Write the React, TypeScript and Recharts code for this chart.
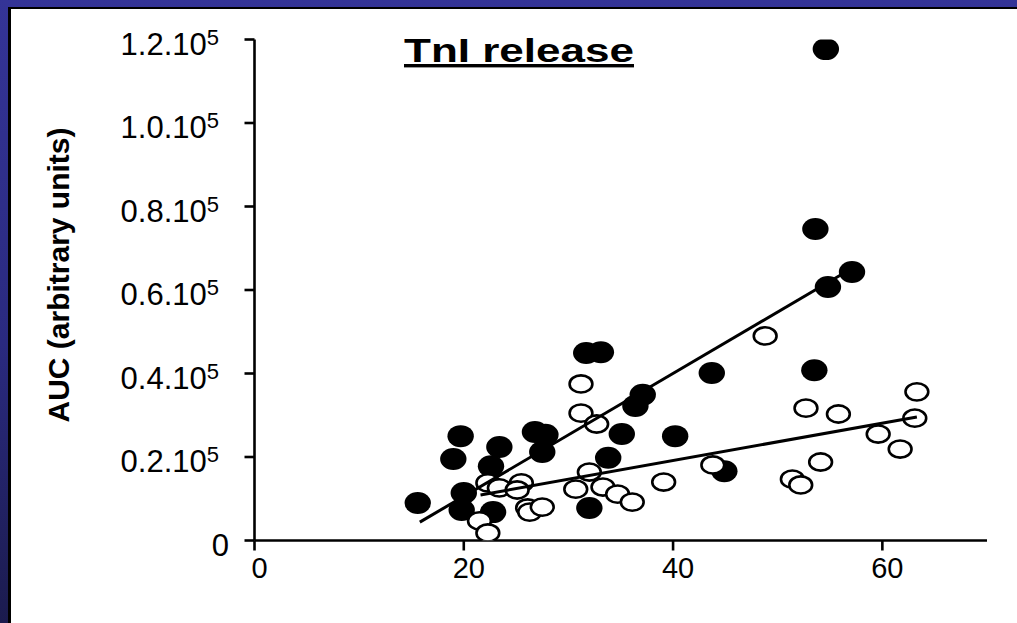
import React from 'react';
import { ScatterChart, Scatter, XAxis, YAxis, Customized } from 'recharts';

// values (AUC in arbitrary units)
const filledX = [15.6, 19.7, 19.0, 20.0, 19.8, 22.8, 22.6, 23.4, 26.8, 27.8, 27.5, 31.7, 33.1, 37.1, 36.4, 35.1, 33.8, 32.0, 40.2, 43.7, 44.9, 53.5, 57.1, 54.8, 53.6, 54.6];
const filledAUC = [9000, 25000, 19500, 11400, 7300, 6800, 17800, 22400, 26000, 25300, 21200, 44900, 45100, 34900, 32200, 25500, 19800, 7800, 25000, 40100, 16600, 40800, 64300, 60700, 74600, 117700];

const openX = [21.5, 22.3, 22.3, 23.4, 25.5, 25.1, 26.1, 26.3, 27.5, 30.7, 32.0, 31.2, 31.2, 32.7, 33.3, 34.7, 36.1, 39.1, 43.8, 48.8, 51.4, 52.2, 52.7, 54.1, 55.8, 59.6, 61.7, 63.1, 63.3];
const openAUC = [4700, 1800, 13800, 12600, 13800, 12100, 7800, 6800, 8000, 12300, 16400, 37500, 30500, 27900, 12800, 11100, 9200, 14000, 18100, 49000, 14700, 13300, 31700, 18800, 30300, 25500, 21900, 29300, 35600];

// regression line end points
const filledFitX = [15.8, 56.3];
const filledFitAUC = [4400, 64000];
const openFitX = [21.6, 63.3];
const openFitAUC = [10900, 29600];

const xTicks = [0, 20, 40, 60];
const yTicks = [0, 20000, 40000, 60000, 80000, 100000, 120000];
const yTickLabels = ['0', '0.2.10', '0.4.10', '0.6.10', '0.8.10', '1.0.10', '1.2.10'];

const FONT = '"Liberation Sans", Arial, sans-serif';

const toPoints = (xs: number[], ys: number[]) => xs.map((x, i) => ({ x, y: ys[i] }));

const filledData = toPoints(filledX, filledAUC);
const openData = toPoints(openX, openAUC);
const filledFit = toPoints(filledFitX, filledFitAUC);
const openFit = toPoints(openFitX, openFitAUC);

const FilledDot = (props: any) => (
  <ellipse cx={props.cx} cy={props.cy} rx={13.2} ry={11} fill="#000" />
);

const OpenDot = (props: any) => (
  <ellipse cx={props.cx} cy={props.cy} rx={11.4} ry={8.6} fill="#fff" stroke="#000" strokeWidth={2.6} />
);

const NoDot = () => <g />;

const YTick = (props: any) => {
  const { y, payload } = props;
  const idx = yTicks.indexOf(payload.value);
  const label = yTickLabels[idx];
  if (payload.value === 0) {
    return (
      <text x={229} y={y + 15} textAnchor="end" fontSize={31} fontFamily={FONT} fill="#000">
        {label}
      </text>
    );
  }
  return (
    <text x={219} y={y + 15} textAnchor="end" fontSize={31} fontFamily={FONT} fill="#000">
      <tspan>{label}</tspan>
      <tspan dy={-10} fontSize={22}>5</tspan>
    </text>
  );
};

const XTick = (props: any) => {
  const { x, payload } = props;
  return (
    <text x={x + 5} y={578} textAnchor="middle" fontSize={29} fontFamily={FONT} fill="#000">
      {payload.value}
    </text>
  );
};

const Labels = () => (
  <g fontFamily={FONT} fill="#000">
    <text
      x={404}
      y={62}
      fontSize={34}
      fontWeight="bold"
      textLength={230}
      lengthAdjust="spacingAndGlyphs"
      style={{ textDecoration: 'underline' }}
    >
      TnI release
    </text>
    <text
      transform="translate(69,275) rotate(-90)"
      textAnchor="middle"
      fontSize={30}
      fontWeight="bold"
    >
      AUC (arbitrary units)
    </text>
  </g>
);

export default function App() {
  return (
    <div
      style={{
        position: 'absolute',
        left: 0,
        top: 0,
        width: 1017,
        height: 623,
        background: 'linear-gradient(to bottom, #343497 0%, #2a2a80 55%, #1b1b4e 100%)',
        overflow: 'hidden',
      }}
    >
      <div
        style={{
          position: 'absolute',
          left: 8,
          top: 7,
          right: 0,
          bottom: 0,
          background: '#fff',
          borderLeft: '3px solid #000',
          borderTop: '2.5px solid #000',
        }}
      />
      <div style={{ position: 'absolute', left: 0, top: 0 }}>
        <ScatterChart width={1017} height={623} margin={{ top: 39.5, right: 30, bottom: 0, left: 0 }}>
          <XAxis
            type="number"
            dataKey="x"
            domain={[0, 70]}
            ticks={xTicks}
            height={82.5}
            tickSize={10}
            axisLine={{ stroke: '#000', strokeWidth: 2.6 }}
            tickLine={{ stroke: '#000', strokeWidth: 2.6 }}
            tick={<XTick />}
            allowDataOverflow
          />
          <YAxis
            type="number"
            dataKey="y"
            domain={[0, 120000]}
            ticks={yTicks}
            width={254.5}
            tickSize={10}
            axisLine={{ stroke: '#000', strokeWidth: 2.6 }}
            tickLine={{ stroke: '#000', strokeWidth: 2.6 }}
            tick={<YTick />}
            interval={0}
            allowDataOverflow
          />
          <Scatter data={filledData} shape={<FilledDot />} isAnimationActive={false} />
          <Scatter data={openData} shape={<OpenDot />} isAnimationActive={false} />
          <Scatter
            data={filledFit}
            shape={<NoDot />}
            line={{ stroke: '#000', strokeWidth: 3 }}
            lineType="joint"
            isAnimationActive={false}
          />
          <Scatter
            data={openFit}
            shape={<NoDot />}
            line={{ stroke: '#000', strokeWidth: 3 }}
            lineType="joint"
            isAnimationActive={false}
          />
          <Customized component={<Labels />} />
        </ScatterChart>
      </div>
    </div>
  );
}
